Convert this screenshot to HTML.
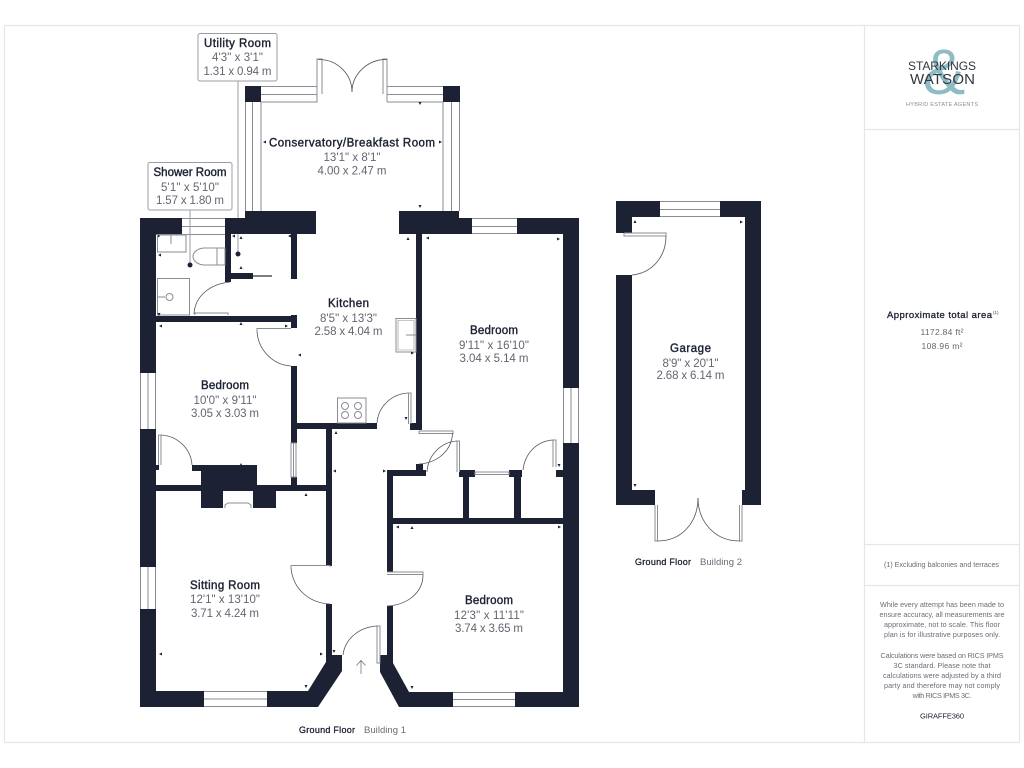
<!DOCTYPE html>
<html><head><meta charset="utf-8"><title>Floor plan</title>
<style>
html,body{margin:0;padding:0;background:#fff}
svg{display:block}
text{font-family:"Liberation Sans",sans-serif}
.t{font-size:11.5px;font-weight:400;fill:#1c2133;stroke:#1c2133;stroke-width:.4;text-anchor:middle}
.b{font-size:9px;font-weight:400;fill:#1c2133;stroke:#1c2133;stroke-width:.3}
.d{font-size:11.5px;fill:#62666f;text-anchor:middle}
.s{font-size:7.2px;fill:#6a6d75;text-anchor:middle}
.w{fill:#1c2133;stroke:none}
.l{fill:none;stroke:#8a8d94;stroke-width:1}
.a{fill:none;stroke:#50535e;stroke-width:.8}
.box{fill:#fff;stroke:#9a9da3;stroke-width:1}
</style></head><body>
<svg width="1024" height="768" viewBox="0 0 1024 768" xmlns="http://www.w3.org/2000/svg">
<rect width="1024" height="768" fill="#fff"/>
<!-- frame -->
<g fill="none" stroke="#e6e6ea" stroke-width="1.2">
<rect x="4.500" y="25.500" width="1015" height="717"/>
<path d="M864.500 25V742M864 129.500H1020M864 544.500H1020M864 585.500H1020"/>
</g>

<!-- window fills / lines -->
<g class="l">
<path d="M261 86.500H317V102H261M261 94.500H317"/>
<path d="M387 86.500H443M387 94.500H443M387 102H443"/>
<path d="M245.500 102V211M252.500 102V211M261 102V211"/>
<path d="M443 102V211M451.500 102V211M459.500 102V211"/>
<path d="M182 218.500H225M182 226.500H225M156 234.500H225"/>
<path d="M472 218.500H517M472 226.500H517M472 233.500H517"/>
<path d="M140.500 373V429M148 373V429M155.500 373V429"/>
<path d="M140.500 567V609M148 567V609M155.500 567V609"/>
<path d="M204 691.500H267M204 699H267M204 706.500H267"/>
<path d="M453 692.500H515M453 699.500H515M453 706.500H515"/>
<path d="M563.500 388V443M571 388V443M578.500 388V443"/>
<path d="M660 201.500H720M660 209.500H720M660 216.500H720"/>
</g>

<!-- walls -->
<g class="w">
<rect x="245" y="86" width="16" height="16"/>
<rect x="443" y="86" width="17" height="16"/>
<polygon points="245,211 316,211 316,234 231,234 231,282 225,282 225,218 245,218"/>
<polygon points="399,211 459,211 459,218 472,218 472,234 422,234 422,430 410,430 410,423 416,423 416,234 399,234"/>
<polygon points="517,218 579,218 579,388 563,388 563,234 517,234"/>
<rect x="563" y="443" width="16" height="264"/>
<rect x="515" y="692" width="64" height="15"/>
<polygon points="156,218 182,218 182,234 156,234 156,373 140,373 140,218"/>
<rect x="140" y="429" width="16" height="138"/>
<polygon points="140,609 156,609 156,691 204,691 204,707 140,707"/>
<polygon points="267,691 308,691 326,662 326,604 332,604 332,655 342,655 342,671 318,707 267,707"/>
<rect x="156" y="316" width="141" height="6"/>
<rect x="291" y="315" width="6" height="13"/>
<rect x="231" y="273" width="22" height="6"/>
<rect x="291" y="234" width="6" height="45"/>
<rect x="291" y="366" width="6" height="77"/>
<rect x="297" y="423" width="80" height="6"/>
<rect x="326" y="429" width="6" height="137"/>
<rect x="291" y="477" width="6" height="8"/>
<rect x="156" y="485" width="176" height="6"/>
<rect x="192" y="465" width="65" height="6"/>
<rect x="201" y="471" width="56" height="20"/>
<rect x="201" y="491" width="22" height="17"/>
<rect x="253" y="491" width="23" height="17"/>
<rect x="223" y="485" width="30" height="5"/>
<rect x="156" y="465" width="3" height="5"/>
<rect x="416" y="464" width="7" height="6"/>
<rect x="387" y="470" width="39" height="6"/>
<rect x="387" y="470" width="6" height="102"/>
<rect x="459" y="470" width="16" height="7"/>
<rect x="509" y="470" width="13" height="7"/>
<rect x="556" y="470" width="7" height="7"/>
<rect x="463" y="477" width="6" height="42"/>
<rect x="514" y="477" width="7" height="42"/>
<rect x="393" y="518" width="170" height="6"/>
<polygon points="387,606 393,606 393,663 409,692 453,692 453,707 399,707 380,672 380,655 387,655"/>
<!-- garage -->
<polygon points="616,201 660,201 660,217 632,217 632,233 616,233"/>
<polygon points="720,201 761,201 761,505 742,505 742,490 745,490 745,217 720,217"/>
<polygon points="616,275 632,275 632,490 655,490 655,505 616,505"/>
</g>

<!-- doors -->
<g class="l">
<path d="M317 102V59H322V94"/>
<path d="M387 102V59H383V94"/>
<path d="M253 276H272" stroke-width="1.400" stroke="#555"/>
<path d="M195 315V313H228V315"/>
<path d="M257 331V328.500H291"/>
<path d="M158.500 465V435H161V465"/>
<path d="M291 568V565.500H330V567"/>
<path d="M377 626H380V663H377Z"/>
<path d="M408.500 424V393H411V424"/>
<path d="M419 431V433.500H453V431H419"/>
<path d="M457 472V441H459.500V472"/>
<path d="M553 467V440H556V467"/>
<path d="M475 472H509V474.500H475Z"/>
<path d="M291 443H296V477H291Z"/>
<path d="M293.500 443V477"/>
<path d="M387 572H423V574.500H387"/>
<path d="M624 233V236H666V233H624"/>
<path d="M655 505V541H657.500V505"/>
<path d="M739.500 505V541H742V505"/>
</g>
<g class="a">
<path d="M318 59.500C337 59 352 74 352 92"/>
<path d="M387 59.500C368 59 352 74 352 92"/>
<path d="M194 314C195 296 210 284 230 282"/>
<path d="M257 331C258 350 273 365 291 366"/>
<path d="M161 435C178 436 191 449 192 465"/>
<path d="M291 568C293 589 309 603 330 604"/>
<path d="M377 626C359 627 345 639 343 655"/>
<path d="M408 393C391 394 378 407 377 423"/>
<path d="M452.500 433C452 450 438 463 419 464"/>
<path d="M457 441C441 442 428 455 427 472"/>
<path d="M553 440C537 441 525 453 523 470"/>
<path d="M423 575C423 592 408 605 387 606"/>
<path d="M666 236C666 257 652 273 632 275"/>
<path d="M657.500 541C682 541 698 522 698 498"/>
<path d="M739.500 541C715 541 698 522 698 498"/>
<path d="M361 661V674M356.500 665.500L361 660.500L365.500 665.500" stroke="#777"/>
</g>

<!-- fixtures -->
<g class="l">
<rect x="157.500" y="235" width="28.500" height="17"/>
<path d="M171 235V244"/>
<path d="M217 248H225V265H217ZM217 248H205C198 248 193 252 193 256.500C193 261 198 265 205 265H217"/>
<rect x="157.500" y="278.500" width="32" height="36.500"/>
<path d="M158 297H165"/>
<circle cx="169.500" cy="297" r="3.500"/>
<rect x="396" y="318.500" width="20" height="33.500"/>
<path d="M398 320.500H414V350H398Z" stroke-width=".6"/>
<path d="M406 335H416"/>
<rect x="337.500" y="398" width="28.500" height="25"/>
<circle cx="345" cy="406" r="3.500"/><circle cx="358" cy="406" r="3.500"/>
<circle cx="345" cy="415" r="3.500"/><circle cx="358" cy="415" r="3.500"/>
<path d="M225 508V505L228 503H248L251 505V508"/>
</g>

<!-- dimension ticks -->
<g fill="#1c2133">
<path d="M263 142l3-1.500v3zM442 142l-3-1.500v3zM420 105l-1.500-3h3zM420 208l-1.500-3h3z"/>
<path d="M288 236l3 1.500v-3zM160 236l-2 1.500v-3zM158 255l3-1.500v3zM232 236l3 1.500v-3zM241 236l-1.500 3h3zM241 266l-1.500 3h3z"/>
<path d="M159 316l-1.500-3h3zM159 326l3-1.500v3zM241 322l-1.500 3h3zM288 326l-3-1.500v3zM408 237l-1.500 3h3zM426 238l3-1.500v3zM560 239l-3-1.500v3z"/>
<path d="M298 355l3-1.500v3zM414 353l-3-1.500v3zM241 463l-1.500 3h3zM336 431l-1.500 3h3zM333 471l3-1.500v3z"/>
<path d="M406 420l-1.500-3h3zM559 467l-1.500-3h3zM386 471l-3-1.500v3z"/>
<path d="M306 493l-1.500 3h3zM159 654l3-1.500v3zM323 654l-3-1.500v3zM306 688l-1.500-3h3zM334 653l-1.500-3h3zM412 689l-1.500-3h3z"/>
<path d="M396 527l3-1.500v3zM412 526l-1.500 3h3zM561 527l-3-1.500v3zM635 220l-1.500 3h3zM743 222l-3-1.500v3zM635 487l-1.500-3h3z"/>
</g>

<!-- leaders + labels -->
<g stroke="#9a9da3" stroke-width="1" fill="none">
<path d="M238 81V218M238 234V254"/>
<path d="M190 210V265"/>
</g>
<circle cx="238" cy="254" r="2.500" fill="#1c2133"/>
<circle cx="190" cy="265" r="2.500" fill="#1c2133"/>
<rect class="box" x="198" y="33.500" width="79" height="47.500" rx="2"/>
<rect class="box" x="148" y="162.500" width="84" height="47.500" rx="2"/>

<text class="t" x="237.500" y="47" textLength="67">Utility Room</text>
<text class="d" x="237.500" y="61" textLength="51">4'3" x 3'1"</text>
<text class="d" x="237.500" y="75" textLength="68">1.31 x 0.94 m</text>

<text class="t" x="190" y="176" textLength="73">Shower Room</text>
<text class="d" x="190" y="191" textLength="58">5'1" x 5'10"</text>
<text class="d" x="190" y="204" textLength="68">1.57 x 1.80 m</text>

<text class="t" x="352" y="146.500" textLength="166">Conservatory/Breakfast Room</text>
<text class="d" x="352" y="161" textLength="57">13'1" x 8'1"</text>
<text class="d" x="352" y="174.500" textLength="69">4.00 x 2.47 m</text>

<text class="t" x="348.500" y="307" textLength="41">Kitchen</text>
<text class="d" x="348.500" y="322" textLength="57">8'5" x 13'3"</text>
<text class="d" x="348.500" y="335" textLength="68">2.58 x 4.04 m</text>

<text class="t" x="225" y="389" textLength="48">Bedroom</text>
<text class="d" x="225" y="404" textLength="63">10'0" x 9'11"</text>
<text class="d" x="225" y="417" textLength="68">3.05 x 3.03 m</text>

<text class="t" x="225" y="589" textLength="70">Sitting Room</text>
<text class="d" x="225" y="603" textLength="70">12'1" x 13'10"</text>
<text class="d" x="225" y="617" textLength="68">3.71 x 4.24 m</text>

<text class="t" x="494" y="334" textLength="48">Bedroom</text>
<text class="d" x="494" y="349" textLength="70">9'11" x 16'10"</text>
<text class="d" x="494" y="362" textLength="69">3.04 x 5.14 m</text>

<text class="t" x="690.500" y="352" textLength="41">Garage</text>
<text class="d" x="690.500" y="367" textLength="56">8'9" x 20'1"</text>
<text class="d" x="690.500" y="379" textLength="68">2.68 x 6.14 m</text>

<text class="t" x="489" y="604" textLength="48">Bedroom</text>
<text class="d" x="489" y="619" textLength="70">12'3" x 11'11"</text>
<text class="d" x="489" y="632" textLength="68">3.74 x 3.65 m</text>

<text class="b" x="299" y="733" textLength="56">Ground Floor</text>
<text x="364" y="733" font-size="9.500" fill="#6a6d75" textLength="42">Building 1</text>
<text class="b" x="635" y="565" textLength="56">Ground Floor</text>
<text x="700" y="565" font-size="9.500" fill="#6a6d75" textLength="42">Building 2</text>

<!-- logo -->
<text x="944" y="94" font-size="64" fill="#8fbcc4" text-anchor="middle">&amp;</text>
<text x="908" y="70" font-size="12" fill="#33363f" textLength="68">STARKINGS</text>
<text x="910" y="84" font-size="15" fill="#33363f" textLength="65">WATSON</text>
<text x="906" y="106" font-size="5.500" fill="#8a8d94" textLength="72">HYBRID ESTATE AGENTS</text>

<!-- sidebar text -->
<text class="b" x="887" y="318" style="font-size:9.500px" textLength="105">Approximate total area</text>
<text x="993" y="314" font-size="4.500" fill="#444">(1)</text>
<text class="d" x="942" y="335" style="font-size:8.500px" textLength="43">1172.84 ft²</text>
<text class="d" x="942" y="349" style="font-size:8.500px" textLength="41">108.96 m²</text>
<text class="s" x="941.500" y="567" textLength="115">(1) Excluding balconies and terraces</text>
<text class="s" x="942" y="607" textLength="124">While every attempt has been made to</text>
<text class="s" x="942" y="617" textLength="125">ensure accuracy, all measurements are</text>
<text class="s" x="942" y="627" textLength="116">approximate, not to scale. This floor</text>
<text class="s" x="942" y="637" textLength="116">plan is for illustrative purposes only.</text>
<text class="s" x="942" y="658" textLength="123">Calculations were based on RICS IPMS</text>
<text class="s" x="942" y="668" textLength="97">3C standard. Please note that</text>
<text class="s" x="942" y="678" textLength="118">calculations were adjusted by a third</text>
<text class="s" x="942" y="688" textLength="116">party and therefore may not comply</text>
<text class="s" x="942" y="698" textLength="59">with RICS IPMS 3C.</text>
<text x="942" y="718.500" font-size="7.500" fill="#1c2133" text-anchor="middle" textLength="44">GIRAFFE360</text>
</svg>
</body></html>
